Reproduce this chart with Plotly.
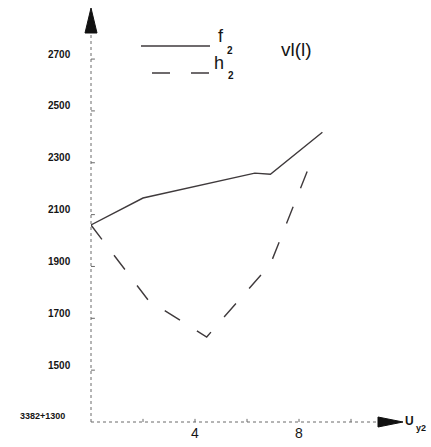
import plotly.graph_objects as go

# Series data
f2_x = [0, 2, 6.3, 6.9, 8.9]
f2_y = [2060, 2164, 2260, 2256, 2418]
h2_x = [0, 2.2, 4.45, 6.9, 8.55]
h2_y = [2060, 1770, 1628, 1909, 2326]

# Axis ticks
y_ticks = [1500, 1700, 1900, 2100, 2300, 2500, 2700]
x_ticks = [2, 4, 6, 8, 10]
x_tick_labels = {4: "4", 8: "8"}
origin_label = "3382+1300"

W, H = 431, 447
L, R, T, B = 91, 28, 8, 25
X_RANGE = [0, 12]
Y_RANGE = [1300, 2897]

INK = "#3f3a3c"
AX = "#6a6a6a"
TXT = "#151515"
FONT = "Liberation Sans, Arial, sans-serif"


def px(xp, yp):
    """Pixel position -> paper coordinates."""
    return (xp - L) / (W - L - R), (H - B - yp) / (H - T - B)


fig = go.Figure()
fig.add_trace(go.Scatter(x=f2_x, y=f2_y, mode="lines", name="f2",
                         line=dict(color=INK, width=1.4)))
fig.add_trace(go.Scatter(x=h2_x, y=h2_y, mode="lines", name="h2",
                         line=dict(color=INK, width=1.4, dash="18px,20px")))

shapes = []
ann = []

# Axis lines (dotted) with arrowheads
x0, y0 = px(91, 422)
_, ytop = px(91, 33)
xr, _ = px(378, 422)
shapes.append(dict(type="line", xref="paper", yref="paper", x0=x0, y0=y0, x1=x0, y1=ytop,
                   line=dict(color=AX, width=1, dash="dot")))
shapes.append(dict(type="line", xref="paper", yref="paper", x0=x0, y0=y0, x1=xr, y1=y0,
                   line=dict(color=AX, width=1, dash="dot")))


def tri(p1, p2, p3):
    a, b, c = px(*p1), px(*p2), px(*p3)
    return f"M {a[0]},{a[1]} L {b[0]},{b[1]} L {c[0]},{c[1]} Z"


shapes.append(dict(type="path", xref="paper", yref="paper",
                   path=tri((91, 8), (85, 33), (97, 33)),
                   fillcolor="#111", line=dict(color="#111", width=1)))
shapes.append(dict(type="path", xref="paper", yref="paper",
                   path=tri((403, 422), (378, 417), (378, 427)),
                   fillcolor="#111", line=dict(color="#111", width=1)))

# Tick marks
for v in y_ticks:
    shapes.append(dict(type="line", xref="x", yref="y", x0=-0.04, x1=0.15, y0=v, y1=v,
                       line=dict(color=AX, width=1)))
    ann.append(dict(x=0, y=v, xref="x", yref="y", text=f"<b>{v}</b>", showarrow=False,
                    xanchor="right", yanchor="middle", xshift=-18, yshift=5,
                    font=dict(family=FONT, size=10, color=TXT)))
for v in x_ticks:
    shapes.append(dict(type="line", xref="x", yref="y", x0=v, x1=v, y0=1300, y1=1312,
                       line=dict(color=AX, width=1)))
    if v in x_tick_labels:
        ann.append(dict(x=v, y=1300, xref="x", yref="y", text=x_tick_labels[v], showarrow=False,
                        xanchor="center", yanchor="middle", yshift=-11,
                        font=dict(family=FONT, size=14, color=TXT)))

ann.append(dict(x=0, y=1300, xref="x", yref="y", text=f"<b>{origin_label}</b>", showarrow=False,
                xanchor="right", yanchor="middle", xshift=-24, yshift=6,
                font=dict(family=FONT, size=9, color=TXT)))

# Legend drawn by hand
a, b = px(141, 46), px(210, 46)
shapes.append(dict(type="line", xref="paper", yref="paper", x0=a[0], y0=a[1], x1=b[0], y1=b[1],
                   line=dict(color=INK, width=1.4)))
a, b = px(152, 73), px(210, 73)
shapes.append(dict(type="line", xref="paper", yref="paper", x0=a[0], y0=a[1], x1=b[0], y1=b[1],
                   line=dict(color=INK, width=1.4, dash="18px,21px")))


def text_at(xp, yp, s, size, bold=False):
    p = px(xp, yp)
    ann.append(dict(x=p[0], y=p[1], xref="paper", yref="paper",
                    text=f"<b>{s}</b>" if bold else s, showarrow=False,
                    xanchor="center", yanchor="middle",
                    font=dict(family=FONT, size=size, color=TXT)))


text_at(221, 36, "f", 18)
text_at(230, 50, "2", 10, bold=True)
text_at(219, 63, "h", 18)
text_at(231, 75, "2", 10, bold=True)
text_at(296, 49, "vl(l)", 19)
text_at(409, 421, "U", 12, bold=True)
text_at(421, 428, "y2", 9, bold=True)

fig.update_layout(
    width=W, height=H,
    margin=dict(l=L, r=R, t=T, b=B),
    paper_bgcolor="white", plot_bgcolor="white",
    showlegend=False,
    xaxis=dict(range=X_RANGE, visible=False, fixedrange=True),
    yaxis=dict(range=Y_RANGE, visible=False, fixedrange=True),
    shapes=shapes, annotations=ann,
)

fig.write_html("out.html")
